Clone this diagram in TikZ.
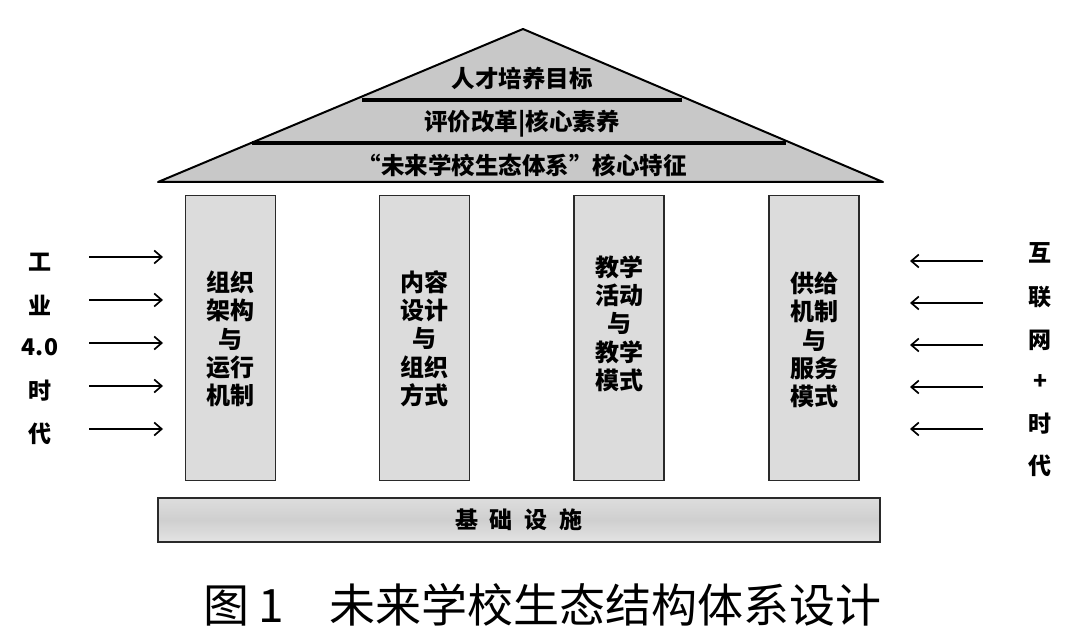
\documentclass[tikz,border=0pt]{standalone}
\usepackage{fontspec}
\setmainfont{Noto Sans CJK SC}
\usetikzlibrary{arrows.meta}
\definecolor{roofgray}{HTML}{C8C8C8}
\definecolor{pillargray}{HTML}{DCDCDC}
\definecolor{basegray}{HTML}{CFCFCF}
\definecolor{edgegray}{HTML}{2A2A2A}
\tikzset{
  roofline/.style={line width=2pt, draw=black},
  band/.style={line width=4pt, draw=black},
  rooftext/.style={font=\fontsize{23.5}{26}\selectfont\bfseries, inner sep=0pt},
  pillar/.style={draw=edgegray, line width=1.6pt, fill=pillargray, minimum width=90pt, minimum height=285pt, inner sep=0pt},
  pillartext/.style={align=center, inner sep=0pt, font=\fontsize{24}{28.3}\selectfont\bfseries},
  basebox/.style={draw=edgegray, line width=1.6pt, top color=basegray!70, bottom color=basegray!110!black, middle color=basegray, minimum width=722pt, minimum height=44pt, inner sep=0pt, font=\fontsize{23}{26}\selectfont\bfseries},
  sidelabel/.style={font=\fontsize{23}{26}\selectfont\bfseries, inner sep=0pt},
  flow/.style={line width=1.8pt, -{Straight Barb[length=7.5pt,width=13pt,line width=1.7pt]}},
  caption/.style={font=\fontsize{46}{50}\selectfont, inner sep=0pt}
}
\begin{document}
\begin{tikzpicture}[x=1pt,y=-1pt]
\useasboundingbox (0,0) rectangle (1080,644);
% roof
\coordinate (apex) at (523,29);
\coordinate (rl) at (158,182);
\coordinate (rr) at (883,182);
\fill[roofgray] (apex) -- (rl) -- (rr) -- cycle;
\draw[roofline, line join=round] (apex) -- (rl) -- (rr) -- cycle;
\coordinate (b1l) at (362,100);
\coordinate (b1r) at (682,100);
\coordinate (b2l) at (252,143);
\coordinate (b2r) at (786,143);
\draw[band] (b1l) -- (b1r);
\draw[band] (b2l) -- (b2r);
\node[rooftext] (t1) at (522,79) {人才培养目标};
\node[rooftext] (t2) at (522,124) {评价改革|核心素养};
\node[rooftext] (t3) at (522,165) {“未来学校生态体系”核心特征};
% pillars
\node[pillar] (p1) at (230.5,338) {};
\node[pillar] (p2) at (424.5,338) {};
\node[pillar] (p3) at (619,338) {};
\node[pillar] (p4) at (814,338) {};
\node[pillartext] (p1t) at (230,339) {组织\\架构\\与\\运行\\机制};
\node[pillartext] (p2t) at (424,338.5) {内容\\设计\\与\\组织\\方式};
\node[pillartext] (p3t) at (619,323.5) {教学\\活动\\与\\教学\\模式};
\node[pillartext] (p4t) at (814,340) {供给\\机制\\与\\服务\\模式};
% base
\node[basebox] (base) at (519,520) {基\hspace{12pt}础\hspace{12pt}设\hspace{12pt}施};
% left labels
\node[sidelabel] (l1) at (40,262) {工};
\node[sidelabel] (l2) at (40,305) {业};
\node[sidelabel] (l3) at (40,347) {4.0};
\node[sidelabel] (l4) at (40,391) {时};
\node[sidelabel] (l5) at (40,434) {代};
\foreach \i/\y in {1/257,2/300,3/343,4/386,5/429}{
  \coordinate (ls\i) at (89,\y);
  \coordinate (le\i) at (163,\y);
  \draw[flow] (ls\i) -- (le\i);
}
% right labels
\node[sidelabel] (r1) at (1040,253) {互};
\node[sidelabel] (r2) at (1040,297) {联};
\node[sidelabel] (r3) at (1040,340) {网};
\node[sidelabel] (r4) at (1040,382) {+};
\node[sidelabel] (r5) at (1040,424) {时};
\node[sidelabel] (r6) at (1040,466) {代};
\foreach \i/\y in {1/261,2/303,3/345,4/387,5/429}{
  \coordinate (rs\i) at (983,\y);
  \coordinate (re\i) at (910,\y);
  \draw[flow] (rs\i) -- (re\i);
}
% caption
\node[caption] (cap) at (542.5,605) {图\hspace{9pt}1\hspace{45pt}未来学校生态结构体系设计};
\end{tikzpicture}
\end{document}
